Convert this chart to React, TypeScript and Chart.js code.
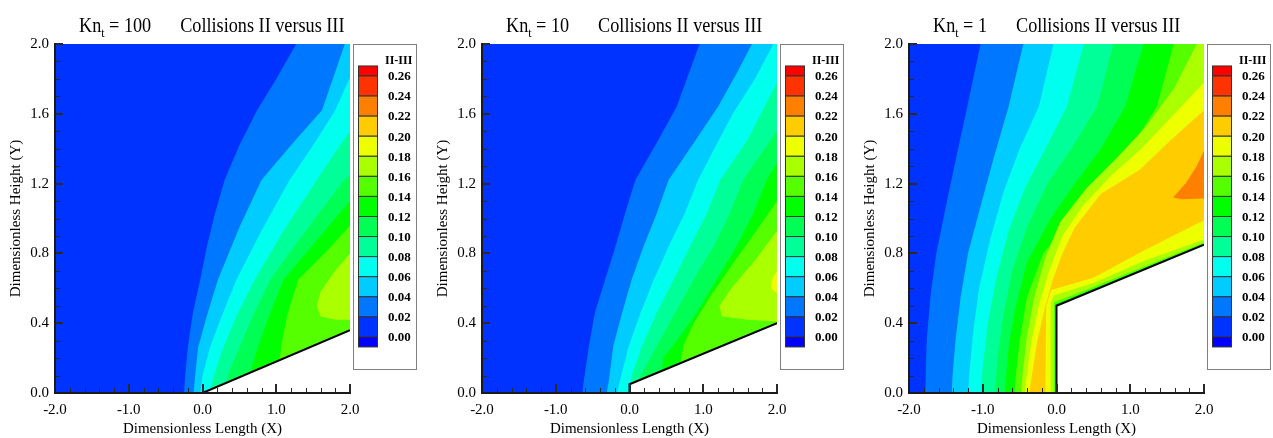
import React, { useEffect, useRef } from "react";
import { Chart, registerables } from "chart.js";

Chart.register(...registerables);

type Pt = [number, number];

const SERIF = "'Liberation Serif', 'Times New Roman', serif";

// ---------- texts ----------
const knValues = ["100", "10", "1"];
const titleMain = "Collisions II versus III";
const xAxisTitle = "Dimensionless Length (X)";
const yAxisTitle = "Dimensionless Height (Y)";
const legendTitle = "II-III";

// ---------- ticks ----------
const xMajorTicks = [-2, -1, 0, 1, 2];
const xMinorTicks = [-1.8, -1.6, -1.4, -1.2, -0.8, -0.6, -0.4, -0.2, 0.2, 0.4, 0.6, 0.8, 1.2, 1.4, 1.6, 1.8];
const yMajorTicks = [0, 0.4, 0.8, 1.2, 1.6, 2.0];
const yMinorTicks = [0.1, 0.2, 0.3, 0.5, 0.6, 0.7, 0.9, 1.0, 1.1, 1.3, 1.4, 1.5, 1.7, 1.8, 1.9];

// ---------- colour bar ----------
const legendLevels = ["0.26", "0.24", "0.22", "0.20", "0.18", "0.16", "0.14", "0.12", "0.10", "0.08", "0.06", "0.04", "0.02", "0.00"];
const legendColors = ["#ff0000", "#ff3300", "#ff8000", "#ffcc00", "#eeff00", "#aaff00", "#55ff00", "#00ff00", "#00ff55", "#00ff99", "#00ffee", "#00ccff", "#0077ff", "#0033ff", "#0000ff"];

// fill colour of the region where value >= level
const levelColor: Record<string, string> = {
  "0.00": "#0033ff", "0.02": "#0077ff", "0.04": "#00ccff", "0.06": "#00ffee",
  "0.08": "#00ff99", "0.10": "#00ff55", "0.12": "#00ff00", "0.14": "#55ff00",
  "0.16": "#aaff00", "0.18": "#eeff00", "0.20": "#ffcc00", "0.22": "#ff8000",
  "0.24": "#ff3300", "0.26": "#ff0000",
};

const domain: Pt[] = [[-2, 0], [-2, 2], [2, 2], [2, 0]];

// ---------- Kn = 100 ----------
const kn100_c02: Pt[] = [[1.27, 2], [1.0, 1.8], [0.74, 1.62], [0.5, 1.42], [0.3, 1.22], [0.17, 1.03], [0.06, 0.84], [-0.03, 0.65], [-0.13, 0.46], [-0.2, 0.26], [-0.24, 0.07], [-0.25, 0], [2, 0], [2, 2]];
const kn100_c04: Pt[] = [[1.93, 2], [1.62, 1.62], [1.2, 1.42], [0.8, 1.22], [0.5, 0.95], [0.21, 0.65], [0.05, 0.43], [-0.06, 0.26], [-0.1, 0.1], [-0.12, 0], [2, 0], [2, 2]];
const kn100_c06: Pt[] = [[2, 1.81], [1.8, 1.62], [1.5, 1.42], [1.18, 1.22], [0.8, 0.93], [0.46, 0.65], [0.26, 0.44], [0.1, 0.26], [0.0, 0.1], [-0.03, 0], [2, 0]];
const kn100_c08: Pt[] = [[2, 1.5], [1.8, 1.38], [1.55, 1.22], [1.1, 0.93], [0.71, 0.65], [0.46, 0.44], [0.28, 0.26], [0.14, 0.08], [0.1, 0], [2, 0]];
const kn100_c10: Pt[] = [[2, 1.25], [1.92, 1.22], [1.4, 0.93], [0.92, 0.65], [0.68, 0.44], [0.5, 0.26], [0.36, 0.12], [0.3, 0], [2, 0]];
const kn100_c12: Pt[] = [[2, 1.1], [1.6, 0.9], [1.1, 0.65], [0.9, 0.44], [0.75, 0.26], [0.66, 0.14], [0.62, 0], [2, 0]];
const kn100_c14: Pt[] = [[2, 0.96], [1.7, 0.82], [1.3, 0.65], [1.15, 0.45], [1.08, 0.3], [1.04, 0.18], [1.02, 0], [2, 0]];
const kn100_c16: Pt[] = [[2, 0.8], [1.78, 0.69], [1.6, 0.58], [1.55, 0.5], [1.6, 0.44], [1.8, 0.42], [2, 0.42]];
const kn100_wedge: Pt[] = [[0, 0], [2, 0.36], [2, 0]];
const kn100_edge: Pt[] = [[0, 0], [2, 0.36]];

// ---------- Kn = 10 ----------
const kn10_c02: Pt[] = [[0.95, 2], [0.64, 1.64], [0.35, 1.42], [0.08, 1.22], [-0.06, 1.03], [-0.19, 0.84], [-0.33, 0.65], [-0.47, 0.46], [-0.55, 0.27], [-0.62, 0.07], [-0.64, 0], [2, 0], [2, 2]];
const kn10_c04: Pt[] = [[1.66, 2], [1.45, 1.83], [1.2, 1.64], [0.85, 1.42], [0.53, 1.22], [0.37, 1.03], [0.19, 0.84], [0.03, 0.65], [-0.1, 0.46], [-0.22, 0.27], [-0.28, 0.07], [-0.31, 0], [2, 0], [2, 2]];
const kn10_c06: Pt[] = [[1.95, 2], [1.7, 1.8], [1.4, 1.6], [1.15, 1.4], [0.93, 1.22], [0.75, 1.03], [0.53, 0.84], [0.33, 0.65], [0.15, 0.46], [-0.01, 0.27], [-0.13, 0.07], [-0.17, 0], [2, 0], [2, 2]];
const kn10_c08: Pt[] = [[2, 1.78], [1.6, 1.45], [1.23, 1.22], [1.05, 1.03], [0.82, 0.84], [0.6, 0.65], [0.37, 0.46], [0.17, 0.27], [0.03, 0.1], [0, 0], [2, 0]];
const kn10_c10: Pt[] = [[2, 1.5], [1.54, 1.22], [1.36, 1.03], [1.14, 0.84], [0.87, 0.65], [0.62, 0.46], [0.37, 0.27], [0.15, 0.1], [0.1, 0], [2, 0]];
const kn10_c12: Pt[] = [[2, 1.32], [1.86, 1.22], [1.68, 1.03], [1.45, 0.84], [1.18, 0.65], [0.91, 0.46], [0.64, 0.3], [0.46, 0.2], [0.4, 0], [2, 0]];
const kn10_c14: Pt[] = [[2, 1.1], [1.72, 0.93], [1.4, 0.74], [1.09, 0.55], [0.87, 0.4], [0.73, 0.27], [0.69, 0.17], [0.69, 0], [2, 0]];
const kn10_c16: Pt[] = [[2, 0.93], [1.7, 0.76], [1.38, 0.6], [1.22, 0.5], [1.25, 0.44], [1.6, 0.42], [2, 0.41]];
const kn10_c18: Pt[] = [[2, 0.7], [1.93, 0.65], [1.92, 0.6], [2, 0.57]];
const kn10_wedge: Pt[] = [[0, 0], [0, 0.05], [2, 0.4], [2, 0]];
const kn10_edge: Pt[] = [[0, 0], [0, 0.05], [2, 0.4]];

// ---------- Kn = 1 ----------
const kn1_c02: Pt[] = [[-1.03, 2], [-1.21, 1.64], [-1.36, 1.35], [-1.5, 1.07], [-1.63, 0.8], [-1.71, 0.55], [-1.76, 0.3], [-1.78, 0], [2, 0], [2, 2]];
const kn1_c04: Pt[] = [[-0.45, 2], [-0.65, 1.64], [-0.85, 1.35], [-1.03, 1.07], [-1.2, 0.8], [-1.3, 0.55], [-1.37, 0.3], [-1.41, 0.1], [-1.42, 0], [2, 0], [2, 2]];
const kn1_c06: Pt[] = [[-0.04, 2], [-0.24, 1.64], [-0.5, 1.4], [-0.72, 1.15], [-0.9, 0.88], [-1.05, 0.6], [-1.13, 0.35], [-1.18, 0.12], [-1.2, 0], [2, 0], [2, 2]];
const kn1_c08: Pt[] = [[0.37, 2], [0.14, 1.64], [-0.15, 1.4], [-0.42, 1.18], [-0.65, 0.93], [-0.82, 0.65], [-0.93, 0.4], [-1.0, 0.15], [-1.03, 0], [2, 0], [2, 2]];
const kn1_c10: Pt[] = [[0.77, 2], [0.55, 1.64], [0.2, 1.4], [-0.12, 1.2], [-0.4, 0.95], [-0.6, 0.7], [-0.72, 0.45], [-0.8, 0.2], [-0.83, 0], [2, 0], [2, 2]];
const kn1_c12: Pt[] = [[1.18, 2], [0.93, 1.64], [0.6, 1.4], [0.25, 1.2], [-0.08, 1.0], [-0.4, 0.75], [-0.55, 0.5], [-0.64, 0.3], [-0.68, 0.11], [-0.7, 0], [2, 0], [2, 2]];
const kn1_c14: Pt[] = [[1.59, 2], [1.36, 1.64], [1.0, 1.4], [0.6, 1.2], [0.2, 1.0], [-0.18, 0.8], [-0.4, 0.55], [-0.5, 0.3], [-0.55, 0.11], [-0.57, 0], [-0.01, 0], [-0.01, 0.51], [2, 0.855], [2, 2]];
const kn1_c16: Pt[] = [[1.9, 2], [1.6, 1.75], [1.2, 1.52], [0.8, 1.34], [0.4, 1.17], [0.05, 0.98], [-0.15, 0.78], [-0.3, 0.55], [-0.4, 0.33], [-0.46, 0.11], [-0.48, 0], [-0.04, 0], [-0.035, 0.52], [0.3, 0.575], [2, 0.862], [2, 2]];
const kn1_c18: Pt[] = [[2, 1.78], [1.6, 1.6], [1.15, 1.4], [0.75, 1.25], [0.35, 1.07], [0.08, 0.9], [-0.1, 0.7], [-0.24, 0.5], [-0.34, 0.3], [-0.4, 0.11], [-0.43, 0], [-0.086, 0], [-0.08, 0.52], [-0.03, 0.56], [0.5, 0.63], [1.2, 0.76], [2, 0.88]];
const kn1_c20: Pt[] = [[2, 1.62], [1.55, 1.45], [1.13, 1.28], [0.6, 1.14], [0.25, 0.95], [0.08, 0.8], [-0.05, 0.65], [-0.15, 0.5], [-0.26, 0.3], [-0.33, 0.11], [-0.37, 0], [-0.15, 0], [-0.14, 0.5], [-0.07, 0.59], [0.5, 0.66], [1.2, 0.82], [2, 0.99]];
const kn1_c22: Pt[] = [[2, 1.39], [1.9, 1.3], [1.75, 1.2], [1.58, 1.12], [1.7, 1.11], [2, 1.115]];
const kn1_wedge: Pt[] = [[0, 0], [0, 0.5], [2, 0.85], [2, 0]];
const kn1_edge: Pt[] = [[0, 0], [0, 0.5], [2, 0.85]];

type Contour = { level: string; pts: Pt[] };
type PanelData = { kn: string; contours: Contour[]; wedge: Pt[]; edge: Pt[] };

const panelsData: PanelData[] = [
  {
    kn: knValues[0],
    contours: [
      { level: "0.02", pts: kn100_c02 }, { level: "0.04", pts: kn100_c04 }, { level: "0.06", pts: kn100_c06 },
      { level: "0.08", pts: kn100_c08 }, { level: "0.10", pts: kn100_c10 }, { level: "0.12", pts: kn100_c12 },
      { level: "0.14", pts: kn100_c14 }, { level: "0.16", pts: kn100_c16 },
    ],
    wedge: kn100_wedge, edge: kn100_edge,
  },
  {
    kn: knValues[1],
    contours: [
      { level: "0.02", pts: kn10_c02 }, { level: "0.04", pts: kn10_c04 }, { level: "0.06", pts: kn10_c06 },
      { level: "0.08", pts: kn10_c08 }, { level: "0.10", pts: kn10_c10 }, { level: "0.12", pts: kn10_c12 },
      { level: "0.14", pts: kn10_c14 }, { level: "0.16", pts: kn10_c16 }, { level: "0.18", pts: kn10_c18 },
    ],
    wedge: kn10_wedge, edge: kn10_edge,
  },
  {
    kn: knValues[2],
    contours: [
      { level: "0.02", pts: kn1_c02 }, { level: "0.04", pts: kn1_c04 }, { level: "0.06", pts: kn1_c06 },
      { level: "0.08", pts: kn1_c08 }, { level: "0.10", pts: kn1_c10 }, { level: "0.12", pts: kn1_c12 },
      { level: "0.14", pts: kn1_c14 }, { level: "0.16", pts: kn1_c16 }, { level: "0.18", pts: kn1_c18 },
      { level: "0.20", pts: kn1_c20 }, { level: "0.22", pts: kn1_c22 },
    ],
    wedge: kn1_wedge, edge: kn1_edge,
  },
];

// ---------- layout (page pixels) ----------
const PAGE_W = 1273;
const PAGE_H = 438;
const panelLayout = [
  { left: 0, width: 425 },
  { left: 427, width: 425 },
  { left: 854, width: 419 },
];

const toXY = (pts: Pt[]) => pts.map(([x, y]) => ({ x, y }));

const inwardTicks = {
  id: "inwardTicks",
  afterDatasetsDraw(chart: any) {
    const { ctx, chartArea } = chart;
    const xs = chart.scales.x;
    const ys = chart.scales.y;
    ctx.save();
    ctx.strokeStyle = "#2a2a2a";
    const drawX = (v: number, major: boolean) => {
      const px = Math.round(xs.getPixelForValue(v)) + (major ? 0 : 0.5);
      ctx.lineWidth = major ? 2 : 1;
      ctx.beginPath();
      ctx.moveTo(px, chartArea.bottom);
      ctx.lineTo(px, chartArea.bottom - (major ? 9 : 5));
      ctx.stroke();
    };
    const drawY = (v: number, major: boolean) => {
      const py = Math.round(ys.getPixelForValue(v)) + (major ? 0 : 0.5);
      ctx.lineWidth = major ? 2 : 1;
      ctx.beginPath();
      ctx.moveTo(chartArea.left, py);
      ctx.lineTo(chartArea.left + (major ? 8 : 5), py);
      ctx.stroke();
    };
    xMinorTicks.forEach((v) => drawX(v, false));
    xMajorTicks.forEach((v) => drawX(v, true));
    yMinorTicks.forEach((v) => drawY(v, false));
    yMajorTicks.forEach((v) => drawY(v, true));
    ctx.restore();
  },
};

const colorBar = {
  id: "colorBar",
  afterDraw(chart: any) {
    const { ctx, chartArea } = chart;
    const bx = Math.round(chartArea.right + 3) + 0.5;
    const by = 44.5;
    const bw = 63;
    const bh = 325;
    ctx.save();
    ctx.fillStyle = "#ffffff";
    ctx.fillRect(bx, by, bw, bh);
    ctx.strokeStyle = "#808080";
    ctx.lineWidth = 1;
    ctx.strokeRect(bx, by, bw, bh);

    ctx.fillStyle = "#000";
    ctx.font = `bold 12px ${SERIF}`;
    ctx.textAlign = "left";
    ctx.textBaseline = "middle";
    ctx.fillText(legendTitle, bx + 31.5, 60.5);

    const sx = bx + 5;
    const sw = 19;
    const first = 76;
    const step = 20.07;
    const n = legendColors.length;
    for (let i = 0; i < n; i++) {
      let top: number;
      let bottom: number;
      if (i === 0) {
        top = first - step / 2;
        bottom = first;
      } else if (i === n - 1) {
        top = first + (i - 1) * step;
        bottom = top + step / 2;
      } else {
        top = first + (i - 1) * step;
        bottom = first + i * step;
      }
      ctx.fillStyle = legendColors[i];
      ctx.fillRect(sx, top, sw, bottom - top);
      ctx.strokeStyle = "#333333";
      ctx.strokeRect(sx, top, sw, bottom - top);
    }
    ctx.fillStyle = "#000";
    ctx.font = `bold 13px ${SERIF}`;
    legendLevels.forEach((t, k) => {
      ctx.fillText(t, bx + 34.5, first + k * step + 1);
    });
    ctx.restore();
  },
};

function makeTitlePlugin(kn: string) {
  return {
    id: "panelTitle",
    afterDraw(chart: any) {
      const { ctx, chartArea } = chart;
      ctx.save();
      ctx.fillStyle = "#000";
      ctx.textAlign = "left";
      ctx.textBaseline = "alphabetic";
      ctx.translate(chartArea.left + 24, 32);
      ctx.scale(0.91, 1);
      let x = 0;
      ctx.font = `20px ${SERIF}`;
      ctx.fillText("Kn", x, 0);
      x += ctx.measureText("Kn").width;
      ctx.font = `13px ${SERIF}`;
      ctx.fillText("t", x, 5);
      x += ctx.measureText("t").width;
      ctx.font = `20px ${SERIF}`;
      const eq = ` = ${kn}`;
      ctx.fillText(eq, x, 0);
      x += ctx.measureText(eq).width;
      x += 29 / 0.91;
      ctx.fillText(titleMain, x, 0);
      ctx.restore();
    },
  };
}

function Panel({ data, layout }: { data: PanelData; layout: { left: number; width: number } }) {
  const ref = useRef<HTMLCanvasElement | null>(null);
  useEffect(() => {
    if (!ref.current) return;
    const layers: { pts: Pt[]; color: string }[] = [
      { pts: domain, color: levelColor["0.00"] },
      ...data.contours.map((c) => ({ pts: c.pts, color: levelColor[c.level] })),
      { pts: data.wedge, color: "#ffffff" },
    ];
    const total = layers.length + 1;
    const datasets: any[] = layers.map((l, i) => ({
      data: toXY(l.pts),
      backgroundColor: l.color,
      borderColor: l.color,
      borderWidth: 0,
      pointRadius: 0,
      pointHoverRadius: 0,
      fill: "shape",
      tension: 0,
      order: total - i,
    }));
    datasets.push({
      data: toXY(data.edge),
      borderColor: "#000000",
      borderWidth: 2,
      pointRadius: 0,
      pointHoverRadius: 0,
      fill: false,
      tension: 0,
      order: 0,
    });

    const tickFont = { family: SERIF, size: 15 };
    const chart = new Chart(ref.current, {
      type: "line",
      data: { datasets },
      options: {
        animation: false,
        responsive: false,
        maintainAspectRatio: false,
        devicePixelRatio: 1,
        events: [],
        layout: { padding: { top: 44, left: 0, right: layout.width - 350, bottom: 0 } },
        plugins: { legend: { display: false }, tooltip: { enabled: false }, title: { display: false } },
        scales: {
          x: {
            type: "linear",
            min: -2,
            max: 2,
            grid: { display: false, drawTicks: false },
            border: { display: true, color: "#1a1a1a", width: 2, z: 1 },
            ticks: {
              stepSize: 1,
              autoSkip: false,
              maxRotation: 0,
              padding: 8,
              color: "#000",
              font: tickFont,
              callback: (v: any) => Number(v).toFixed(1),
            },
            title: { display: true, text: xAxisTitle, color: "#000", font: tickFont, padding: { top: 0, bottom: 0 } },
            afterFit: (s: any) => {
              s.height = 45;
            },
          },
          y: {
            type: "linear",
            min: 0,
            max: 2,
            grid: { display: false, drawTicks: false },
            border: { display: true, color: "#1a1a1a", width: 2, z: 1 },
            ticks: {
              stepSize: 0.4,
              autoSkip: false,
              padding: 6,
              color: "#000",
              font: tickFont,
              callback: (v: any) => Number(v).toFixed(1),
            },
            title: { display: true, text: yAxisTitle, color: "#000", font: tickFont, padding: { top: 7, bottom: 0 } },
            afterFit: (s: any) => {
              s.width = 55;
            },
          },
        },
      } as any,
      plugins: [inwardTicks, colorBar, makeTitlePlugin(data.kn)],
    });
    return () => chart.destroy();
  }, [data, layout]);

  return (
    <canvas
      ref={ref}
      width={layout.width}
      height={PAGE_H}
      style={{ position: "absolute", left: layout.left, top: 0, width: layout.width, height: PAGE_H }}
    />
  );
}

export default function App() {
  return (
    <div style={{ position: "absolute", left: 0, top: 0, width: PAGE_W, height: PAGE_H, background: "#ffffff", overflow: "hidden" }}>
      {panelsData.map((d, i) => (
        <Panel key={i} data={d} layout={panelLayout[i]} />
      ))}
    </div>
  );
}
